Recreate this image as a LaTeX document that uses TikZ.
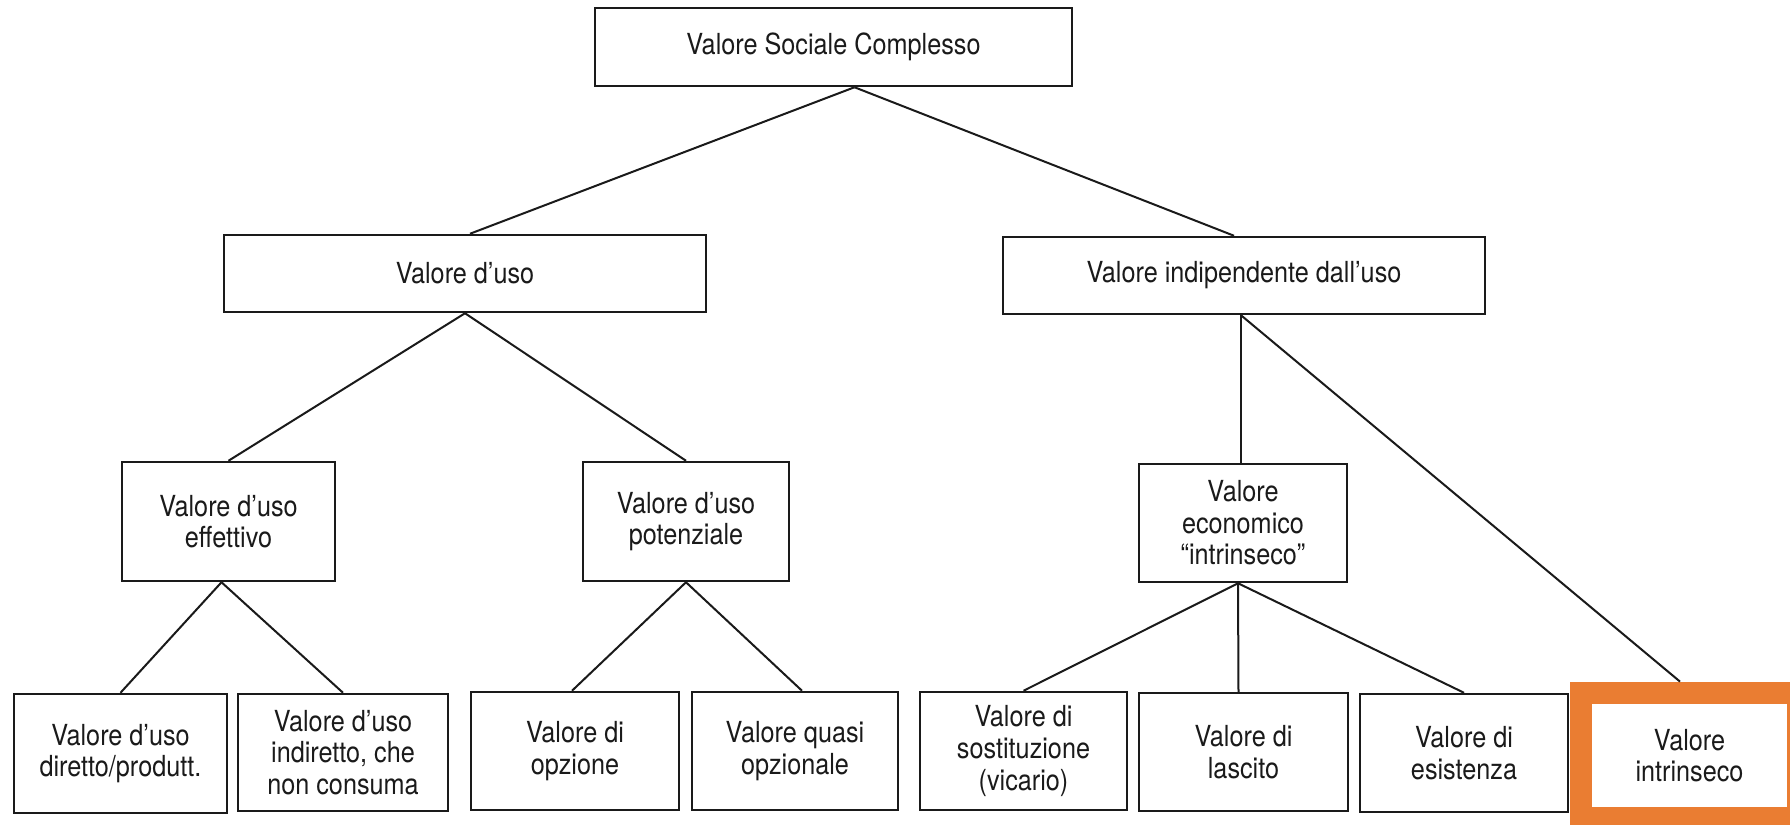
\documentclass[tikz,border=0pt]{standalone}
\usepackage{fontspec}
\setmainfont{TeX Gyre Heros}[FakeStretch=0.87]
\definecolor{hlorange}{HTML}{EA7D32}
\definecolor{ink}{HTML}{1A1A1A}
\begin{document}
\begin{tikzpicture}[x=0.5pt,y=-0.5pt,
  box/.style={draw=ink, line width=1.25pt, inner sep=0pt, align=center, text=ink,
    font=\fontsize{14.5}{15.8}\selectfont},
  link/.style={draw=ink, line width=1pt},
  hlframe/.style={fill=hlorange, draw=none, inner sep=0pt}]
\useasboundingbox[fill=white] (0,0) rectangle (1790,825);
% level 0
\node[box, minimum width=238.5pt, minimum height=39pt] (top) at (833.5,47) {Valore Sociale Complesso};
% level 1
\node[box, minimum width=241pt, minimum height=38.5pt] (uso) at (465,273.5) {Valore d’uso};
\node[box, minimum width=241pt, minimum height=38.5pt] (ind) at (1244,275.5) {Valore indipendente dall’uso};
% level 2
\node[box, minimum width=106.5pt, minimum height=59.5pt] (eff) at (228.5,521.5) {Valore d’uso\\effettivo};
\node[box, minimum width=103pt, minimum height=59.5pt] (pot) at (686,521.5) {Valore d’uso\\potenziale};
\node[box, minimum width=104pt, minimum height=59pt] (eco) at (1243,523) {Valore\\economico\\“intrinseco”};
% level 3
\node[box, minimum width=106.5pt, minimum height=59.5pt] (b1) at (120.5,753.5) {Valore d’uso\\diretto/produtt.};
\node[box, minimum width=105pt, minimum height=58.5pt] (b2) at (343,752.5) {Valore d’uso\\indiretto, che\\non consuma};
\node[box, minimum width=104pt, minimum height=59pt] (b3) at (575,751) {Valore di\\opzione};
\node[box, minimum width=103pt, minimum height=59pt] (b4) at (795,751) {Valore quasi\\opzionale};
\node[box, minimum width=103.5pt, minimum height=59pt] (b5) at (1023.5,751) {Valore di\\sostituzione\\(vicario)};
\node[box, minimum width=104.5pt, minimum height=59pt] (b6) at (1243.5,752) {Valore di\\lascito};
\node[box, minimum width=104pt, minimum height=59pt] (b7) at (1464,753) {Valore di\\esistenza};
% highlighted box
\node[hlframe, minimum width=110pt, minimum height=71.5pt] (hl) at (1680,753.5) {};
\node[box, draw=none, fill=white, minimum width=97.5pt, minimum height=51.5pt] (intr) at (1689.5,755.5) {Valore\\intrinseco};
% connectors
\draw[link] ([xshift=10.5pt]top.south) -- ([xshift=2.5pt]uso.north);
\draw[link] ([xshift=10.5pt]top.south) -- ([xshift=-5pt]ind.north);
\draw[link] (uso.south) -- (eff.north);
\draw[link] (uso.south) -- (pot.north);
\draw[link] ([xshift=-1.5pt]ind.south) -- ([xshift=-1pt]eco.north);
\draw[link] ([xshift=-1.5pt]ind.south) -- (hl.north);
\draw[link] ([xshift=-3.5pt]eff.south) -- (b1.north);
\draw[link] ([xshift=-3.5pt]eff.south) -- (b2.north);
\draw[link] (pot.south) -- ([xshift=-1.5pt]b3.north);
\draw[link] (pot.south) -- ([xshift=3.5pt]b4.north);
\draw[link] ([xshift=-2.5pt]eco.south) -- (b5.north);
\draw[link] ([xshift=-2.5pt]eco.south) -- ([xshift=-2.5pt]b6.north);
\draw[link] ([xshift=-2.5pt]eco.south) -- (b7.north);
\end{tikzpicture}
\end{document}
